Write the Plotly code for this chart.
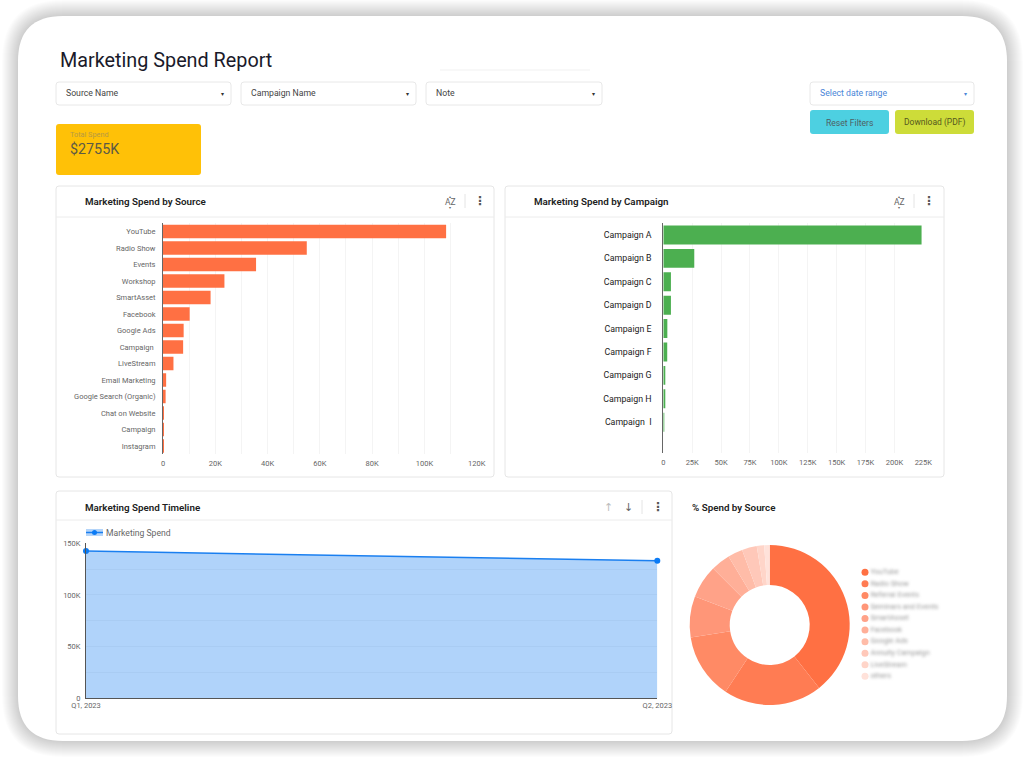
import plotly.graph_objects as go

W = 1024
H = 760
FONT = "Roboto"

# values
source_names = ["YouTube", "Radio Show", "Events", "Workshop", "SmartAsset", "Facebook", "Google Ads",
                "Campaign ", "LiveStream", "Email Marketing", "Google Search (Organic)", "Chat on Website",
                "Campaign", "Instagram"]
source_spend = [108300, 55000, 35600, 23500, 18200, 10200, 7900, 7700, 4000, 1200, 1000, 300, 100, 50]
source_ticks = [0, 20000, 40000, 60000, 80000, 100000, 120000]
source_tick_labels = ["0", "20K", "40K", "60K", "80K", "100K", "120K"]

campaign_names = ["Campaign A", "Campaign B", "Campaign C", "Campaign D", "Campaign E", "Campaign F",
                  "Campaign G", "Campaign H", "Campaign  I"]
campaign_spend = [223500, 26800, 6600, 6600, 3500, 3400, 1400, 1200, 500]
campaign_ticks = [0, 25000, 50000, 75000, 100000, 125000, 150000, 175000, 200000, 225000]
campaign_tick_labels = ["0", "25K", "50K", "75K", "100K", "125K", "150K", "175K", "200K", "225K"]

quarters = ["Q1, 2023", "Q2, 2023"]
quarter_spend = [142500, 133000]
timeline_ticks = [0, 50000, 100000, 150000]
timeline_tick_labels = ["0", "50K", "100K", "150K"]

share_names = ["YouTube", "Radio Show", "Referral Events", "Seminars and Events", "SmartAsset", "Facebook",
               "Google Ads", "Annuity Campaign", "LiveStream", "others"]
share_values = [39.4, 19.9, 13.2, 8.3, 6.7, 3.9, 3.0, 3.0, 1.5, 1.1]
share_colors = ["#ff7043", "#ff7c53", "#ff8a65", "#ff9678", "#ffa288", "#ffaf98", "#ffbca8", "#ffc8b9",
                "#ffd5c9", "#ffe2da"]

shapes = []
annotations = []


def fx(x):
    return x / W


def fy(y):
    return 1 - y / H


def dom_x(a, b):
    return [fx(a), fx(b)]


def dom_y(top, bottom):
    return [fy(bottom), fy(top)]


def round_rect(x0, y0, x1, y1, r, fill, line=None, width=1):
    # plotly paths have no arcs, so corners are quadratic curves
    p = (f"M {fx(x0 + r)} {fy(y0)} L {fx(x1 - r)} {fy(y0)} Q {fx(x1)} {fy(y0)} {fx(x1)} {fy(y0 + r)} "
         f"L {fx(x1)} {fy(y1 - r)} Q {fx(x1)} {fy(y1)} {fx(x1 - r)} {fy(y1)} "
         f"L {fx(x0 + r)} {fy(y1)} Q {fx(x0)} {fy(y1)} {fx(x0)} {fy(y1 - r)} "
         f"L {fx(x0)} {fy(y0 + r)} Q {fx(x0)} {fy(y0)} {fx(x0 + r)} {fy(y0)} Z")
    shapes.append(dict(type="path", path=p, xref="paper", yref="paper", fillcolor=fill, layer="below",
                       line=dict(color=line or "rgba(0,0,0,0)", width=width if line else 0)))


def hline(x0, x1, y, color, width=1):
    shapes.append(dict(type="line", xref="paper", yref="paper", x0=fx(x0), x1=fx(x1), y0=fy(y), y1=fy(y),
                       line=dict(color=color, width=width), layer="below"))


def vline(x, y0, y1, color, width=1):
    shapes.append(dict(type="line", xref="paper", yref="paper", x0=fx(x), x1=fx(x), y0=fy(y0), y1=fy(y1),
                       line=dict(color=color, width=width), layer="below"))


def label(x, y, text, size=8.7, color="#444444", anchor="left", weight=400, family=FONT):
    # left anchored annotations land one pixel to the right
    x = x - 1 if anchor == "left" else x
    annotations.append(dict(text=text, x=fx(x), y=fy(y), xref="paper", yref="paper", showarrow=False,
                            xanchor=anchor, yanchor="middle", borderpad=0,
                            font=dict(size=size, color=color, family=family, weight=weight)))


def dots(x, y):
    label(x, y, "⋮", size=12, color="#555555", anchor="center", weight=700, family="DejaVu Sans")


# page frame with its soft shadow
for i in range(16, 0, -1):
    round_rect(18 - i, 16 - i, 1007 + i, 741 + i, 45 + i, "rgba(0,0,0,0.013)")
round_rect(18, 16, 1007, 741, 45, "#ffffff")
shapes.append(dict(type="rect", xref="paper", yref="paper", x0=fx(440), x1=fx(590), y0=fy(69), y1=fy(71),
                   fillcolor="#f8f8f8", line=dict(width=0), layer="below"))

label(60, 61, "Marketing Spend Report", size=19.8, color="#1a1a2a")

# filter boxes
for x0, x1, name in [(56, 231, "Source Name"), (241, 416, "Campaign Name"), (426, 602, "Note")]:
    round_rect(x0, 82, x1, 105, 3, "#ffffff", "#e8e8e8")
    label(x0 + 10, 93.5, name, color="#444444")
    label(x1 - 9, 93, "▾", size=6, color="#333333", anchor="center", family="DejaVu Sans")
round_rect(810, 82, 974, 105, 3, "#ffffff", "#e8e8e8")
label(820, 93.5, "Select date range", color="#4a86d8")
label(965, 93, "▾", size=6, color="#4a86d8", anchor="center", family="DejaVu Sans")

# buttons
round_rect(810, 110, 889, 134, 3, "#4dd0e1")
label(849.5, 122.5, "Reset Filters", size=8.6, color="#4f5f63", anchor="center")
round_rect(895, 110, 974, 134, 3, "#cddc39")
label(934.5, 122.5, "Download (PDF)", size=8.5, color="#55591f", anchor="center")

# total card
round_rect(56, 124, 201, 175, 3, "#ffc107")
label(70, 135, "Total Spend", size=7.3, color="#b59a45")
label(70, 148.5, "$2755K", size=14.3, color="#5c5a45")

# chart cards
for x0, y0, x1, y1, head in [(56, 186, 494, 477, 217), (505, 186, 944, 477, 217), (56, 491, 672, 734, 520)]:
    round_rect(x0, y0, x1, y1, 3, "#ffffff", "#e6e6e6")
    hline(x0, x1, head, "#ececec")

label(85, 201, "Marketing Spend by Source", size=9.8, color="#212121", weight=600)
label(534, 201, "Marketing Spend by Campaign", size=9.8, color="#212121", weight=600)
label(85, 507, "Marketing Spend Timeline", size=9.8, color="#212121", weight=600)
label(692, 507, "% Spend by Source", size=9.8, color="#212121", weight=600)

# header icons
for ax, sep, dx in [(450, 465, 480), (899, 914, 929)]:
    label(ax, 202, "AZ", size=8.5, color="#666666", anchor="center")
    label(ax, 197, "▴", size=4, color="#666666", anchor="center", family="DejaVu Sans")
    label(ax, 207, "▾", size=4, color="#666666", anchor="center", family="DejaVu Sans")
    vline(sep, 194, 208, "#e4e4e4")
    dots(dx, 201)
label(608, 507, "↑", size=11, color="#bdbdbd", anchor="center", family="DejaVu Sans")
label(628, 507, "↓", size=11, color="#666666", anchor="center", family="DejaVu Sans")
vline(642, 500, 514, "#e4e4e4")
dots(658, 507)

# timeline legend
shapes.append(dict(type="rect", xref="paper", yref="paper", x0=fx(86), x1=fx(103), y0=fy(529), y1=fy(536),
                   fillcolor="#b3d4f9", line=dict(width=0), layer="below"))
hline(86, 103, 532.5, "#1a7ff0", 1.5)
shapes.append(dict(type="circle", xref="paper", yref="paper", x0=fx(92), x1=fx(97), y0=fy(530), y1=fy(535),
                   fillcolor="#0b7bf5", line=dict(width=0), layer="below"))
label(106, 532.5, "Marketing Spend", size=8.6, color="#666666")

fig = go.Figure()

fig.add_trace(go.Bar(x=source_spend, y=source_names, orientation="h", marker=dict(color="#ff7043", line_width=0),
                     xaxis="x", yaxis="y"))
fig.add_trace(go.Bar(x=campaign_spend, y=campaign_names, orientation="h", marker=dict(color="#4caf50", line_width=0),
                     xaxis="x2", yaxis="y2"))
fig.add_trace(go.Scatter(x=quarters, y=quarter_spend, mode="lines+markers", fill="tozeroy",
                         fillcolor="rgba(26,127,240,0.345)", line=dict(color="#1a7ff0", width=1.5),
                         marker=dict(color="#0b7bf5", size=6), cliponaxis=False, xaxis="x3", yaxis="y3"))
fig.add_trace(go.Pie(labels=share_names, values=share_values, hole=0.5, sort=False, direction="clockwise",
                     rotation=0, textinfo="none", marker=dict(colors=share_colors, line=dict(width=0)),
                     domain=dict(x=dom_x(689.7, 849.7), y=dom_y(545, 705))))
# pie legend uses round dots, so it is its own little scatter
fig.add_trace(go.Scatter(x=[0] * len(share_names), y=share_names, mode="markers+text", text=share_names,
                         textposition="middle right", textfont=dict(size=7.3, color="#999999", family=FONT),
                         marker=dict(color=share_colors, size=7), cliponaxis=False, xaxis="x4", yaxis="y4"))

GRID = "#f4f4f4"
TICK = dict(size=7.5, color="#666666", family=FONT)

fig.update_layout(
    template="none", width=W, height=H, margin=dict(l=0, r=0, t=0, b=0, autoexpand=False), autosize=False,
    paper_bgcolor="#ffffff", plot_bgcolor="rgba(0,0,0,0)", showlegend=False, bargap=0.19,
    font=dict(family=FONT), shapes=shapes, annotations=annotations,
    xaxis=dict(domain=dom_x(163, 476.7), anchor="y", range=[0, 120000], tickvals=source_ticks,
               ticktext=source_tick_labels, showgrid=True, gridcolor=GRID,
               minor=dict(dtick=10000, showgrid=True, gridcolor=GRID),
               zeroline=False, tickfont=TICK, ticks="", ticklabelstandoff=3),
    yaxis=dict(domain=dom_y(223.3, 454.3), anchor="x", type="category", range=[13.5, -0.5], showline=True,
               linecolor="#666666", linewidth=1, showgrid=False, tickfont=TICK, ticks="", ticklabelstandoff=5),
    xaxis2=dict(domain=dom_x(663.3, 923.3), anchor="y2", range=[0, 225000], tickvals=campaign_ticks,
                ticktext=campaign_tick_labels, showgrid=True, gridcolor=GRID, zeroline=False, tickfont=TICK,
                ticks="", ticklabelstandoff=3),
    yaxis2=dict(domain=dom_y(223.3, 453.3), anchor="x2", type="category", range=[9.33, -0.5], showline=True,
                linecolor="#666666", linewidth=1, showgrid=False, ticks="", ticklabelstandoff=9,
                tickfont=dict(size=8.8, color="#222222", family=FONT)),
    xaxis3=dict(domain=dom_x(86, 657.3), anchor="y3", type="category", range=[0, 1], showline=True,
                linecolor="#555555", linewidth=1, showgrid=False, tickfont=TICK, ticks=""),
    yaxis3=dict(domain=dom_y(543.3, 698.3), anchor="x3", range=[0, 150000], tickvals=timeline_ticks,
                ticktext=timeline_tick_labels, showline=True, linecolor="#555555", linewidth=1, showgrid=True,
                gridcolor=GRID, zeroline=False, minor=dict(dtick=25000, showgrid=True, gridcolor=GRID),
                tickfont=TICK, ticks="", ticklabelstandoff=3),
    xaxis4=dict(domain=dom_x(865, 945), anchor="y4", range=[0, 1], visible=False),
    yaxis4=dict(domain=dom_y(572.3, 676.3), anchor="x4", type="category", range=[9, 0], visible=False),
)

# legend names of the pie are blurred in the picture; the page also needs no body margin
post = """
document.body.style.margin = '0';
document.querySelectorAll('.scatterlayer .textpoint text').forEach(function (t) {
    t.style.filter = 'blur(1.4px)';
});
"""

fig.write_html("out.html", post_script=post, config=dict(displayModeBar=False))
